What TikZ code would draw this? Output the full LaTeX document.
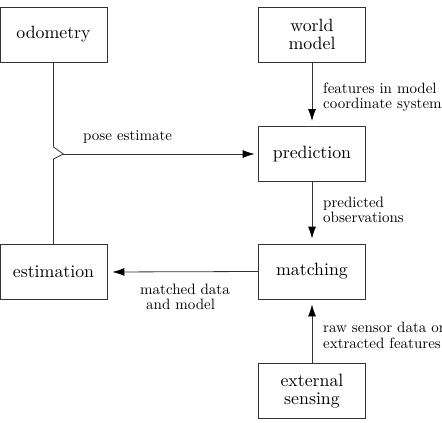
\documentclass[tikz,border=0pt]{standalone}
\usepackage{fontspec}
\setmainfont{lmroman10-regular.otf}
\usetikzlibrary{arrows.meta}
\begin{document}
\begin{tikzpicture}[x=1pt,y=-1pt,
  box/.style={draw=black!80, line width=0.8pt, minimum width=107pt, minimum height=55pt,
    inner sep=0pt, align=center, font=\fontsize{17.8}{18}\selectfont},
  lbl/.style={font=\fontsize{15}{15.5}\selectfont, inner sep=0pt},
  conn/.style={draw=black!80, line width=0.8pt},
  arr/.style={conn, -{Latex[length=12pt,width=8pt,color=black]}, shorten >=5pt}]
\useasboundingbox (0,0) rectangle (442,423);
\node[box] (odo) at (53.5,34.5) {odometry};
\node[box] (wm) at (312,34.5) {world\\model};
\node[box] (pred) at (312,154) {prediction};
\node[box] (match) at (312,271.5) {matching};
\node[box] (est) at (53.5,272) {estimation};
\node[box] (ext) at (312,391) {external\\sensing};
\coordinate (hop) at (63.3,154);
\coordinate (hopa) at (53.5,147);
\coordinate (hopb) at (53.5,159);
\draw[conn] (odo.south) -- (hopa) -- (hop) -- (hopb) -- (est.north);
\draw[arr, shorten >=3.5pt] (hop) -- (pred.west);
\draw[arr] (wm.south) -- (pred.north);
\draw[arr] (pred.south) -- (match.north);
\draw[arr] (match.west) -- (est.east);
\draw[arr] (ext.north) -- (match.south);
\node[lbl, anchor=west] (lpose) at (83,137) {pose estimate};
\node[lbl, anchor=west, align=left] (lfeat) at (323,97) {features in model\\coordinate system};
\node[lbl, anchor=west, align=left] (lpred) at (323,210) {predicted\\observations};
\node[lbl, anchor=west, align=left] (lmatch) at (140,297) {matched data\\\hspace{6pt}and model};
\node[lbl, anchor=west, align=left] (lraw) at (323,335.5) {raw sensor data or\\extracted features};
\end{tikzpicture}
\end{document}
